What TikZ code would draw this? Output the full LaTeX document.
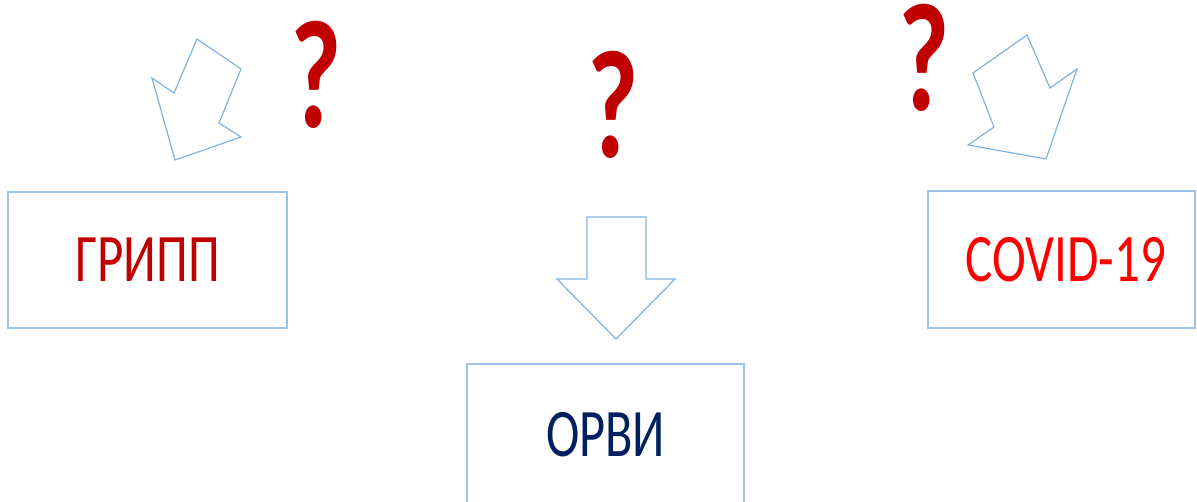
\documentclass[tikz,border=0pt]{standalone}
\usepackage{fontspec}
\newfontfamily\carlito{Carlito}
\definecolor{boxblue}{HTML}{9DC3E6}
\definecolor{arrowblue}{HTML}{7FB2E0}
\definecolor{darkred}{HTML}{C00000}
\definecolor{navy}{HTML}{002060}
\newcommand{\slim}[2]{\scalebox{#1}[1]{#2}}
\tikzset{
  disease/.style={draw=boxblue, line width=1.4pt, inner sep=0pt},
  bigarrow/.style={draw=arrowblue, line width=1.2pt, line join=miter},
  qmark/.style={anchor=base, inner sep=0pt, text=darkred,
    font=\carlito\bfseries\fontsize{154}{154}\selectfont}
}
\begin{document}
\begin{tikzpicture}[x=1pt,y=-1pt]
            \useasboundingbox (0,0) rectangle (1197,502);
            \clip (0,0) rectangle (1197,502);
            % boxes
            \node[disease, minimum width=279pt, minimum height=136pt,
              text=darkred, font=\carlito\fontsize{68}{68}\selectfont]
              (flu) at (147.5,260) {\slim{0.75}{ГРИПП}};
            \node[disease, minimum width=277pt, minimum height=142pt,
              text=navy, font=\carlito\fontsize{68}{68}\selectfont]
              (arvi) at (605.5,435) {\slim{0.74}{ОРВИ}};
            \node[disease, minimum width=267pt, minimum height=137pt,
              text=red, font=\carlito\fontsize{68}{68}\selectfont]
              (covid) at (1061.5,259.5) {\hspace{9pt}\slim{0.75}{COVID-19}};
            % block arrows
            \draw[bigarrow] (197,39) -- (241,69) -- (219,123) -- (241,137)
              -- (175,160) -- (152,78) -- (174,93) -- cycle;
            \draw[bigarrow] (587,217) -- (646,217) -- (646,279) -- (675,279)
              -- (616,339) -- (557,279) -- (587,279) -- cycle;
            \draw[bigarrow] (1027,35) -- (1050,88) -- (1077,69) -- (1046,159)
              -- (968,145) -- (994,127) -- (973,73) -- cycle;
            % question marks
            \node[qmark] (q1) at (316,128) {\slim{0.72}{?}};
            \node[qmark] (q2) at (613,158) {\slim{0.72}{?}};
            \node[qmark] (q3) at (924,111) {\slim{0.72}{?}};
          \end{tikzpicture}
\end{document}
